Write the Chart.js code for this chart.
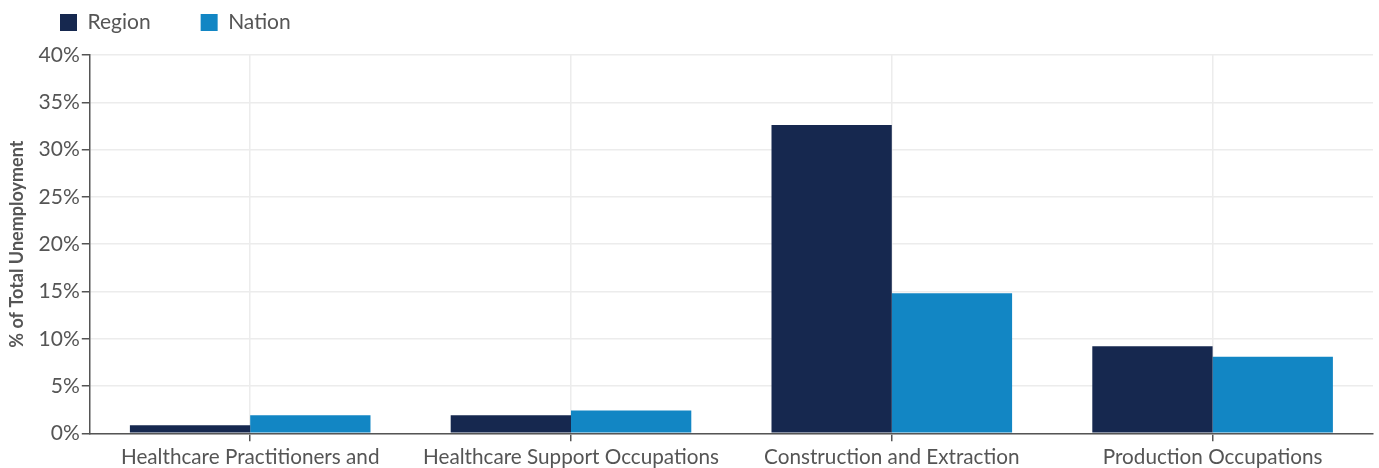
<!DOCTYPE html>
<html>
<head>
<meta charset="utf-8">
<script src="https://cdn.jsdelivr.net/npm/chart.js@4.4.0/dist/chart.umd.min.js"></script>
<style>
html,body{margin:0;padding:0;background:#fff;overflow:hidden;}
#wrap{position:relative;width:1379px;height:499px;}
</style>
</head>
<body>
<div id="wrap"><canvas id="c"></canvas></div>
<script>
const categories = [
  ["Healthcare Practitioners and", "Technical Occupations"],
  ["Healthcare Support Occupations"],
  ["Construction and Extraction", "Occupations"],
  ["Production Occupations"]
];
const regionValues = [0.85, 1.9, 32.6, 9.2];
const nationValues = [1.9, 2.4, 14.8, 8.1];
const yTicks = [0, 5, 10, 15, 20, 25, 30, 35, 40];

Chart.defaults.font.family = "Lato, 'Open Sans', sans-serif";
Chart.defaults.color = "#555";

const legendShift = {
  id: 'legendShift',
  afterLayout(chart) {
    const l = chart.legend;
    if (l) { l.top -= 38; l.bottom = l.top + 90; l.height = 90; l.left += 8; l.right += 8; }
  }
};

new Chart(document.getElementById('c'), {
  type: 'bar',
  data: {
    labels: categories,
    datasets: [
      { label: 'Region', data: regionValues, backgroundColor: '#16284f', borderWidth: 0 },
      { label: 'Nation', data: nationValues, backgroundColor: '#1286c4', borderWidth: 0 }
    ]
  },
  plugins: [legendShift],
  options: {
    responsive: true,
    maintainAspectRatio: false,
    animation: false,
    datasets: { bar: { categoryPercentage: 0.75, barPercentage: 1.0 } },
    layout: { padding: { left: 2, right: 6, top: 0, bottom: 0 } },
    plugins: {
      legend: {
        position: 'top',
        align: 'start',
        maxHeight: 55,
        labels: { boxWidth: 17, boxHeight: 17, padding: 50, font: { size: 21 }, color: '#555' }
      },
      tooltip: { enabled: false }
    },
    scales: {
      x: {
        grid: { offset: false, color: '#ececec', lineWidth: 1.5, drawTicks: true, tickLength: 8, tickColor: '#555', tickWidth: 1.5 },
        border: { color: '#555', width: 1.5 },
        ticks: { font: { size: 20.7 }, color: '#555', maxRotation: 0, autoSkip: false, padding: 4 }
      },
      y: {
        min: 0, max: 40,
        afterBuildTicks: (s) => { s.ticks = yTicks.map(v => ({ value: v })); },
        grid: { color: '#ececec', lineWidth: 1.5, tickLength: 8, tickColor: '#555', tickWidth: 1.5 },
        border: { color: '#555', width: 1.5 },
        ticks: { font: { size: 21 }, color: '#555', padding: 2, callback: v => v + '%' },
        title: { display: true, text: '% of Total Unemployment', font: { size: 18, weight: 'bold' }, color: '#555', padding: { top: 4, bottom: 9 } }
      }
    }
  }
});
</script>
</body>
</html>
